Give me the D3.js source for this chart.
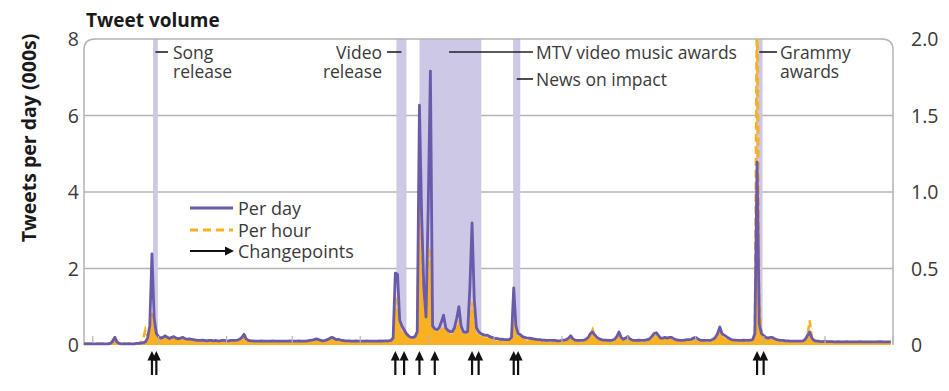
<!DOCTYPE html>
<html><head><meta charset="utf-8">
<script src="https://cdn.jsdelivr.net/npm/d3@7"></script>
<style>body{margin:0;background:#fff}svg{display:block}</style>
</head><body><svg id="c" width="949" height="391"></svg>
<script>
// ---------- DATA ----------
const startDay = "2017-03-28";
const endDay = "2018-04-01";
// tweets per day (thousands), one value per day from startDay
const perDay = [
0.03,0.03,0.03,0.03,0.03,0.03,0.03,0.03,0.03,0.03,
0.03,0.03,0.04,0.08,0.2,0.08,0.04,0.03,0.03,0.03,
0.03,0.03,0.03,0.03,0.04,0.04,0.05,0.06,0.08,0.18,
0.5,2.38,0.7,0.3,0.22,0.18,0.2,0.24,0.2,0.17,
0.2,0.22,0.18,0.16,0.18,0.2,0.17,0.15,0.16,0.15,
0.14,0.13,0.12,0.12,0.13,0.12,0.11,0.12,0.12,0.11,
0.12,0.11,0.11,0.12,0.12,0.11,0.11,0.12,0.12,0.12,
0.13,0.15,0.2,0.28,0.16,0.12,0.11,0.11,0.1,0.1,
0.1,0.11,0.1,0.1,0.1,0.1,0.11,0.1,0.1,0.1,
0.1,0.1,0.1,0.1,0.11,0.1,0.1,0.1,0.11,0.1,
0.1,0.1,0.11,0.12,0.13,0.14,0.16,0.14,0.12,0.11,
0.12,0.14,0.17,0.2,0.18,0.14,0.15,0.13,0.12,0.11,
0.11,0.11,0.1,0.1,0.11,0.1,0.1,0.1,0.1,0.11,
0.1,0.1,0.1,0.1,0.1,0.11,0.1,0.11,0.11,0.11,
0.12,0.18,1.88,1.85,0.65,0.5,0.4,0.3,0.24,0.2,
0.2,0.22,0.35,6.27,3.4,1.5,0.73,3.6,7.16,0.5,
0.42,0.4,0.45,0.6,0.78,0.45,0.38,0.35,0.35,0.45,
0.7,1.0,0.5,0.35,0.33,0.35,1.5,3.19,1.2,0.45,
0.35,0.3,0.27,0.25,0.26,0.22,0.2,0.18,0.17,0.16,
0.15,0.15,0.14,0.14,0.14,0.2,1.49,0.5,0.3,0.27,
0.22,0.2,0.18,0.18,0.17,0.16,0.15,0.14,0.14,0.13,
0.13,0.12,0.12,0.12,0.12,0.12,0.11,0.11,0.12,0.13,
0.14,0.18,0.24,0.16,0.13,0.12,0.12,0.12,0.13,0.15,
0.2,0.3,0.34,0.26,0.2,0.16,0.14,0.13,0.13,0.12,
0.12,0.13,0.15,0.22,0.34,0.2,0.15,0.18,0.22,0.16,
0.13,0.12,0.12,0.13,0.12,0.12,0.13,0.14,0.16,0.22,
0.3,0.32,0.25,0.18,0.18,0.2,0.18,0.2,0.2,0.16,
0.14,0.13,0.12,0.12,0.13,0.14,0.14,0.15,0.18,0.2,
0.16,0.13,0.12,0.12,0.12,0.12,0.13,0.15,0.2,0.3,
0.47,0.3,0.26,0.22,0.18,0.15,0.13,0.13,0.12,0.12,
0.12,0.13,0.12,0.12,0.13,0.14,0.3,4.78,0.55,0.3,
0.25,0.2,0.18,0.2,0.2,0.16,0.14,0.13,0.12,0.12,
0.11,0.11,0.1,0.1,0.1,0.1,0.1,0.1,0.11,0.15,
0.25,0.34,0.18,0.12,0.1,0.1,0.09,0.09,0.1,0.09,
0.09,0.09,0.08,0.08,0.09,0.08,0.08,0.08,0.09,0.08,
0.08,0.08,0.08,0.08,0.09,0.08,0.08,0.08,0.08,0.08,
0.08,0.08,0.08,0.09,0.08,0.08,0.08,0.08,0.08
];
// peak tweets per hour (thousands) within each day, right axis
const perHour = [
0.01,0.01,0.01,0.01,0.01,0.01,0.01,0.01,0.01,0.01,
0.01,0.01,0.01,0.03,0.06,0.02,0.01,0.01,0.01,0.01,
0.01,0.01,0.01,0.01,0.01,0.01,0.02,0.04,0.1,0.06,
0.08,0.21,0.1,0.06,0.05,0.04,0.05,0.06,0.05,0.04,
0.05,0.05,0.04,0.04,0.04,0.05,0.04,0.03,0.04,0.03,
0.03,0.03,0.03,0.03,0.03,0.03,0.02,0.03,0.03,0.02,
0.03,0.02,0.02,0.03,0.03,0.02,0.02,0.03,0.03,0.03,
0.03,0.03,0.04,0.06,0.03,0.03,0.02,0.02,0.02,0.02,
0.02,0.02,0.02,0.02,0.02,0.02,0.02,0.02,0.02,0.02,
0.02,0.02,0.02,0.02,0.02,0.02,0.02,0.02,0.02,0.02,
0.02,0.02,0.02,0.03,0.03,0.03,0.04,0.03,0.03,0.02,
0.03,0.03,0.04,0.05,0.04,0.03,0.03,0.03,0.03,0.02,
0.02,0.02,0.02,0.02,0.02,0.02,0.02,0.02,0.02,0.02,
0.02,0.02,0.02,0.02,0.02,0.02,0.02,0.02,0.02,0.02,
0.03,0.05,0.31,0.2,0.12,0.09,0.07,0.06,0.05,0.04,
0.04,0.05,0.08,0.93,0.45,0.25,0.15,0.4,0.64,0.12,
0.09,0.08,0.09,0.1,0.12,0.09,0.08,0.07,0.07,0.09,
0.12,0.15,0.09,0.07,0.06,0.07,0.15,0.28,0.15,0.08,
0.06,0.05,0.05,0.05,0.05,0.04,0.04,0.04,0.03,0.03,
0.03,0.03,0.03,0.03,0.03,0.05,0.16,0.08,0.05,0.05,
0.04,0.04,0.03,0.03,0.03,0.03,0.03,0.03,0.03,0.03,
0.03,0.02,0.02,0.02,0.02,0.02,0.02,0.02,0.02,0.03,
0.03,0.04,0.05,0.03,0.03,0.02,0.02,0.02,0.03,0.03,
0.04,0.07,0.1,0.05,0.04,0.03,0.03,0.03,0.03,0.02,
0.02,0.03,0.03,0.04,0.07,0.04,0.03,0.04,0.05,0.03,
0.03,0.02,0.02,0.03,0.02,0.02,0.03,0.03,0.03,0.04,
0.06,0.06,0.05,0.04,0.04,0.04,0.04,0.04,0.04,0.03,
0.03,0.03,0.02,0.02,0.03,0.03,0.03,0.03,0.04,0.04,
0.03,0.03,0.02,0.02,0.02,0.02,0.03,0.03,0.04,0.06,
0.08,0.06,0.05,0.04,0.04,0.03,0.03,0.03,0.02,0.02,
0.02,0.03,0.02,0.02,0.03,0.03,0.06,2.4,0.3,0.06,
0.05,0.04,0.04,0.04,0.04,0.03,0.03,0.03,0.02,0.02,
0.02,0.02,0.02,0.02,0.02,0.02,0.02,0.02,0.02,0.03,
0.06,0.16,0.04,0.02,0.02,0.02,0.02,0.02,0.02,0.02,
0.02,0.02,0.02,0.02,0.02,0.02,0.02,0.02,0.02,0.02,
0.02,0.02,0.02,0.02,0.02,0.02,0.02,0.02,0.02,0.02,
0.02,0.02,0.02,0.02,0.02,0.02,0.02,0.02,0.02
];
const leftTicks = [0, 2, 4, 6, 8];
const rightTicks = [0, 0.5, 1.0, 1.5, 2.0];
const rightTickLabels = ["0", "0.5", "1.0", "1.5", "2.0"];
const eventLabels = [["Song", "release"], ["Video", "release"], ["MTV video music awards"], ["News on impact"], ["Grammy", "awards"]];
const eventStarts = ["2017-04-28T12:00", "2017-08-17T12:00", "2017-08-28T00:00", "2017-10-09T18:00", "2018-01-28T12:00"];
const eventEnds   = ["2017-04-30T16:00", "2017-08-22T02:00", "2017-09-25T05:00", "2017-10-13T00:00", "2018-01-31T12:00"];
const changepoints = ["2017-04-28","2017-04-30","2017-08-17","2017-08-21","2017-08-28","2017-09-04","2017-09-21","2017-09-24","2017-10-10","2017-10-12","2018-01-29","2018-02-01"];
const legendLabels = ["Per day", "Per hour", "Changepoints"];
const titleText = "Tweet volume";
const yLabelText = "Tweets per day (000s)";

// ---------- LAYOUT ----------
const L = 84, R = 893, T = 39, B = 345;
const PURPLE = "#6a5aab", ORANGE = "#f9b022", SHADE = "#cdc8e6", GRID = "#b4b4b4", TXT = "#3a3a3a";
const FONT = "'Open Sans', 'Noto Sans', sans-serif";
const annoLayout = [
  {side: "right", lineY: 52, lineEnd: 168, textX: 173},
  {side: "left", lineY: 52, lineEnd: 387, textX: 382},
  {side: "right", lineY: 52, lineStartX: 449, lineEnd: 533, textX: 536},
  {side: "right", lineY: 79, lineEnd: 533, textX: 536},
  {side: "right", lineY: 52, lineEnd: 777, textX: 780}
];

const parseDay = d3.utcParse("%Y-%m-%d");
const parseDT = d3.utcParse("%Y-%m-%dT%H:%M");
const d0 = parseDay(startDay);
const dates = perDay.map((_, i) => d3.utcDay.offset(d0, i));

const x = d3.scaleUtc().domain([d0, parseDay(endDay)]).range([L, R]);
const yL = d3.scaleLinear().domain([0, 8]).range([B, T]);
const yR = d3.scaleLinear().domain([0, 2]).range([B, T]);

const svg = d3.select("#c");
svg.append("defs").append("clipPath").attr("id", "plot")
  .append("rect").attr("x", L - 3).attr("y", T).attr("width", R - L + 6).attr("height", B - T + 6);

// gridlines
svg.append("g").selectAll("line").data(leftTicks.filter(t => t > 0 && t < 8)).join("line")
  .attr("x1", L).attr("x2", R).attr("y1", d => yL(d)).attr("y2", d => yL(d))
  .attr("stroke", GRID).attr("stroke-width", 1.5);

// shading
svg.append("g").selectAll("rect").data(eventStarts).join("rect")
  .attr("x", (d) => x(parseDT(d)))
  .attr("width", (d, i) => x(parseDT(eventEnds[i])) - x(parseDT(d)))
  .attr("y", T).attr("height", B - T).attr("fill", SHADE);

// frame
const rad = 11;
svg.append("path")
  .attr("d", `M${L},${B}V${T + rad}Q${L},${T} ${L + rad},${T}H${R - rad}Q${R},${T} ${R},${T + rad}V${B}`)
  .attr("fill", "none").attr("stroke", GRID).attr("stroke-width", 1.5);

const plot = svg.append("g").attr("clip-path", "url(#plot)");
// per hour: dense hourly trace shown as fill beneath the daily line, dashed trace above it
plot.append("path").datum(perHour)
  .attr("d", d3.area().x((d, i) => x(dates[i])).y0(B).y1((d, i) => Math.max(yR(d), yL(perDay[i]))))
  .attr("fill", ORANGE);
plot.append("path").datum(perHour)
  .attr("d", d3.line().x((d, i) => x(dates[i])).y(d => yR(d)))
  .attr("fill", "none").attr("stroke", ORANGE).attr("stroke-width", 2.6)
  .attr("stroke-dasharray", "8,4");
// per day
plot.append("path").datum(perDay)
  .attr("d", d3.line().x((d, i) => x(dates[i])).y(d => yL(d)))
  .attr("fill", "none").attr("stroke", PURPLE).attr("stroke-width", 2.8)
  .attr("stroke-linejoin", "round");

// month ticks
svg.append("g").selectAll("line").data(x.ticks(d3.utcMonth.every(1))).join("line")
  .attr("x1", d => x(d)).attr("x2", d => x(d)).attr("y1", B - 2).attr("y2", B - 9)
  .attr("stroke", GRID).attr("stroke-width", 1.2);

// annotations
const ag = svg.append("g").attr("font-family", FONT).attr("font-size", 17.5).attr("fill", TXT);
eventLabels.forEach((lab, i) => {
  const a = annoLayout[i];
  const cx = (x(parseDT(eventStarts[i])) + x(parseDT(eventEnds[i]))) / 2;
  const x1 = a.lineStartX !== undefined ? a.lineStartX : (a.side === "right" ? cx : a.lineEnd);
  const x2 = a.side === "right" ? a.lineEnd : cx;
  ag.append("line").attr("x1", x1).attr("x2", x2).attr("y1", a.lineY).attr("y2", a.lineY)
    .attr("stroke", "#222").attr("stroke-width", 1.6);
  const t = ag.append("text").attr("y", a.lineY + 7)
    .attr("text-anchor", a.side === "right" ? "start" : "end");
  lab.forEach((s, k) => t.append("tspan").attr("x", a.textX).attr("dy", k === 0 ? 0 : 19).text(s));
});

// arrows
function arrow(g, x0, yTip, len) {
  g.append("line").attr("x1", x0).attr("x2", x0).attr("y1", yTip + 6).attr("y2", yTip + len)
    .attr("stroke", "#111").attr("stroke-width", 2.2);
  g.append("path").attr("d", `M${x0 - 4.5},${yTip + 9.5}L${x0},${yTip}L${x0 + 4.5},${yTip + 9.5}Z`).attr("fill", "#111");
}
const arg = svg.append("g");
changepoints.forEach(c => arrow(arg, x(parseDay(c)), 351, 24));

// legend
const lg = svg.append("g").attr("font-family", FONT).attr("font-size", 18).attr("fill", TXT);
lg.append("line").attr("x1", 190).attr("x2", 233).attr("y1", 208).attr("y2", 208).attr("stroke", PURPLE).attr("stroke-width", 2.8);
lg.append("line").attr("x1", 190).attr("x2", 233).attr("y1", 230).attr("y2", 230).attr("stroke", ORANGE).attr("stroke-width", 2.8).attr("stroke-dasharray", "8,5");
lg.append("line").attr("x1", 190).attr("x2", 226).attr("y1", 251).attr("y2", 251).attr("stroke", "#111").attr("stroke-width", 2);
lg.append("path").attr("d", "M225,246.5L234,251L225,255.5Z").attr("fill", "#111");
const lt = lg.append("text").attr("y", 215);
legendLabels.forEach((s, k) => lt.append("tspan").attr("x", 238).attr("dy", k === 0 ? 0 : 21.5).text(s));

// axes
const axL = svg.append("g").attr("transform", `translate(${L - 5},0)`)
  .call(d3.axisLeft(yL).tickValues(leftTicks).tickSize(0).tickFormat(d3.format("d")));
const axR = svg.append("g").attr("transform", `translate(${R + 18},0)`)
  .call(d3.axisRight(yR).tickValues(rightTicks).tickSize(0).tickFormat((d, i) => rightTickLabels[i]));
[axL, axR].forEach(a => {
  a.select(".domain").remove();
  a.selectAll("text").attr("font-family", FONT).attr("font-size", 19.5).attr("fill", TXT).attr("dy", "0.35em").attr("x", 0);
});

// title & y label
svg.append("text").attr("x", 86).attr("y", 27).attr("font-family", FONT).attr("font-weight", 700)
  .attr("font-size", 19).attr("fill", "#1a1a1a").text(titleText);
svg.append("text").attr("transform", "translate(36,138) rotate(-90)").attr("text-anchor", "middle")
  .attr("font-family", FONT).attr("font-weight", 700).attr("font-size", 19.5).attr("fill", "#1a1a1a").text(yLabelText);
</script></body></html>
